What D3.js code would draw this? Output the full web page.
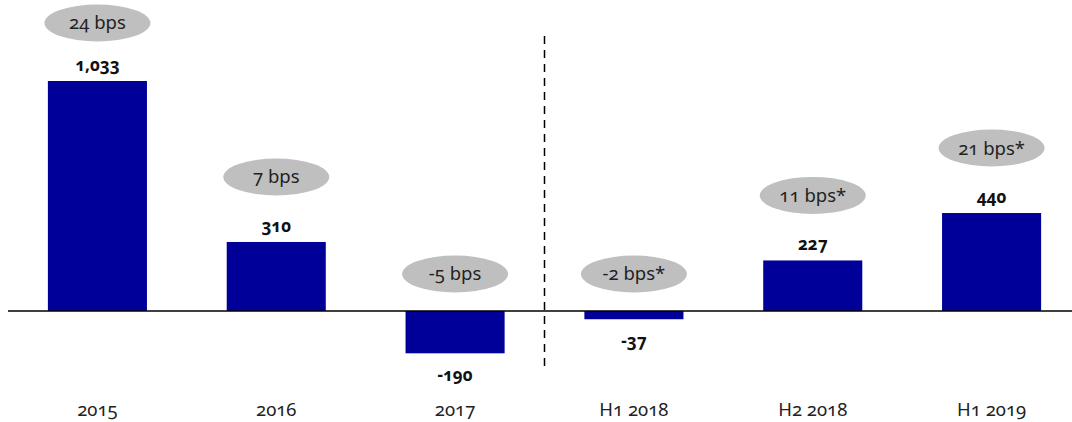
<!DOCTYPE html>
<html>
<head>
<meta charset="utf-8">
<script src="https://cdn.jsdelivr.net/npm/d3@7"></script>
<style>
  body { margin: 0; background: #fff; }
  text { font-family: "Noto Sans", "Open Sans", sans-serif; font-variant-numeric: oldstyle-nums; }
</style>
</head>
<body>
<script>
const w = 1072;
const h = 422;

const periods = ["2015", "2016", "2017", "H1 2018", "H2 2018", "H1 2019"];
const values = [1033, 310, -190, -37, 227, 440];
const bpsLabels = ["24 bps", "7 bps", "-5 bps", "-2 bps*", "11 bps*", "21 bps*"];

const svg = d3.select("body").append("svg").attr("width", w).attr("height", h);

// scales
const xScale = d3
  .scaleBand()
  .domain(periods)
  .range([8, 1081])
  .paddingInner(0.446)
  .paddingOuter(0.223);

const yScale = d3.scaleLinear().domain([0, 1033]).range([311, 81]);

// plain hyphen for negatives, like the source
const fmt = (d) => d3.format(",")(d).replace("\u2212", "-");

// bars
svg
  .selectAll("rect.bar")
  .data(values)
  .enter()
  .append("rect")
  .attr("class", "bar")
  .attr("x", (d, i) => xScale(periods[i]))
  .attr("y", (d) => yScale(Math.max(d, 0)))
  .attr("width", xScale.bandwidth())
  .attr("height", (d) => Math.abs(yScale(d) - yScale(0)))
  .attr("fill", "#000099");

// baseline
svg
  .append("line")
  .attr("x1", 8)
  .attr("x2", w)
  .attr("y1", yScale(0))
  .attr("y2", yScale(0))
  .attr("stroke", "#000")
  .attr("stroke-width", 1.5);

// divider between yearly and half-year figures
const divX = (xScale("2017") + xScale.bandwidth() + xScale("H1 2018")) / 2;
svg
  .append("line")
  .attr("x1", divX)
  .attr("x2", divX)
  .attr("y1", 36)
  .attr("y2", 366)
  .attr("stroke", "#000")
  .attr("stroke-width", 1.5)
  .attr("stroke-dasharray", "8,6");

// value labels
svg
  .selectAll("text.value")
  .data(values)
  .enter()
  .append("text")
  .attr("class", "value")
  .attr("x", (d, i) => xScale(periods[i]) + xScale.bandwidth() / 2)
  .attr("y", (d) => (d >= 0 ? yScale(d) - 10 : yScale(d) + 28))
  .attr("text-anchor", "middle")
  .attr("font-size", 17)
  .attr("font-weight", "bold")
  .attr("fill", "#111")
  .text((d) => fmt(d));

// bps bubbles
const bubbleY = (d) => (d >= 0 ? Math.max(yScale(d) - 65, 23) : yScale(0) - 37);

const bubbles = svg
  .selectAll("g.bubble")
  .data(values)
  .enter()
  .append("g")
  .attr("class", "bubble")
  .attr("transform", (d, i) =>
    "translate(" + (xScale(periods[i]) + xScale.bandwidth() / 2) + "," + bubbleY(d) + ")"
  );

bubbles.append("ellipse").attr("rx", 53).attr("ry", 18.5).attr("fill", "#bfbfbf");

bubbles
  .append("text")
  .attr("text-anchor", "middle")
  .attr("dy", "0.35em")
  .attr("font-size", 18.5)
  .attr("fill", "#222")
  .text((d, i) => bpsLabels[i]);

// category axis
const xAxis = d3.axisBottom(xScale).tickSize(0).tickPadding(0);
const gx = svg.append("g").attr("transform", "translate(0,399)").call(xAxis);
gx.select(".domain").remove();
gx.selectAll("text")
  .attr("font-size", 18.5)
  .attr("fill", "#222")
  .attr("font-family", null)
  .attr("dy", "0.9em");
</script>
</body>
</html>
